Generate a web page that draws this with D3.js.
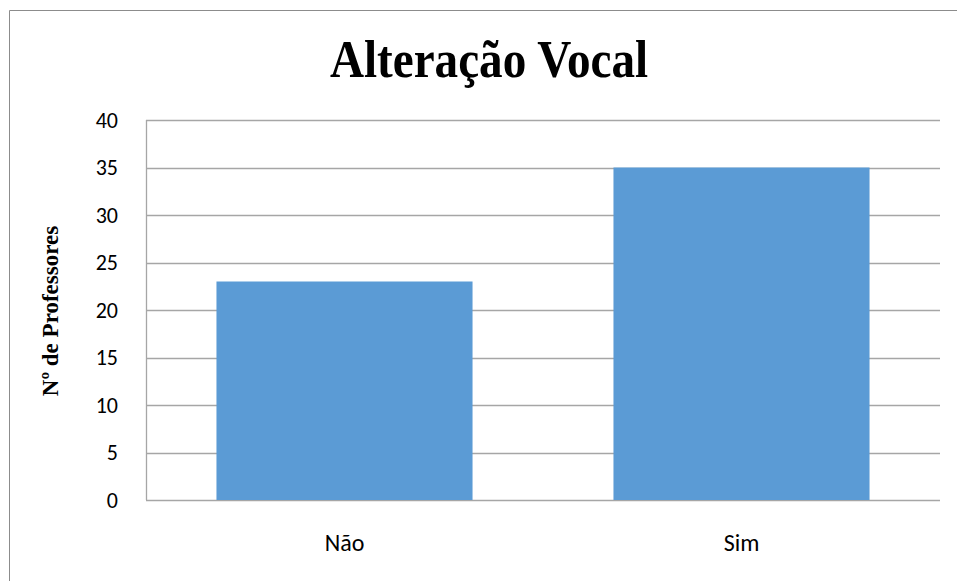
<!DOCTYPE html>
<html>
<head>
<meta charset="utf-8">
<script src="https://cdn.jsdelivr.net/npm/d3@7"></script>
<style>
  body { margin: 0; background: #fff; }
</style>
</head>
<body>
<script>
var categories = ["Não", "Sim"];
var values = [23, 35];
var yTicks = [0, 5, 10, 15, 20, 25, 30, 35, 40];
var title = "Alteração Vocal";
var yLabel = "Nº de Professores";

var width = 957, height = 581;
var margin = {left: 146, right: 17, top: 120, bottom: 81};

var svg = d3.select("body").append("svg")
    .attr("width", width)
    .attr("height", height);

// outer chart border (only left and top visible in the picture)
svg.append("path")
    .attr("d", "M9.5," + height + "V10.5H" + width)
    .attr("fill", "none")
    .attr("stroke", "#8c8c8c")
    .attr("stroke-width", 1);

var x = d3.scaleBand()
    .domain(categories)
    .range([margin.left, width - margin.right])
    .paddingInner(0.355)
    .paddingOuter(0.1775);

var y = d3.scaleLinear()
    .domain([0, 40])
    .range([height - margin.bottom, margin.top]);

// gridlines
svg.append("g").selectAll("line")
    .data(yTicks)
    .enter()
    .append("line")
    .attr("x1", margin.left)
    .attr("x2", width - margin.right)
    .attr("y1", function(d) { return Math.round(y(d)) + 0.5; })
    .attr("y2", function(d) { return Math.round(y(d)) + 0.5; })
    .attr("stroke", "#a6a6a6")
    .attr("stroke-width", 1.3);

// left axis line
svg.append("line")
    .attr("x1", margin.left + 0.5)
    .attr("x2", margin.left + 0.5)
    .attr("y1", y(40))
    .attr("y2", y(0))
    .attr("stroke", "#a6a6a6")
    .attr("stroke-width", 1.3);

// bars
svg.append("g").selectAll("rect")
    .data(values)
    .enter()
    .append("rect")
    .attr("x", function(d, i) { return x(categories[i]); })
    .attr("y", function(d) { return y(d); })
    .attr("width", x.bandwidth())
    .attr("height", function(d) { return y(0) - y(d); })
    .attr("fill", "#5b9bd5");

// y tick labels
svg.append("g").selectAll("text")
    .data(yTicks)
    .enter()
    .append("text")
    .attr("x", 118)
    .attr("y", function(d) { return y(d); })
    .attr("dy", "0.35em")
    .attr("text-anchor", "end")
    .attr("font-family", "Carlito, 'Liberation Sans', sans-serif")
    .attr("font-size", "22px")
    .attr("fill", "#000")
    .text(function(d) { return d; });

// category labels
svg.append("g").selectAll("text")
    .data(categories)
    .enter()
    .append("text")
    .attr("x", function(d) { return x(d) + x.bandwidth() / 2; })
    .attr("y", 551)
    .attr("text-anchor", "middle")
    .attr("font-family", "Carlito, 'Liberation Sans', sans-serif")
    .attr("font-size", "24px")
    .attr("fill", "#000")
    .text(function(d) { return d; });

// title (slightly condensed like the reference)
svg.append("text")
    .attr("transform", "translate(489,77) scale(0.89,1)")
    .attr("text-anchor", "middle")
    .attr("font-family", "'Liberation Serif', 'Times New Roman', serif")
    .attr("font-weight", "bold")
    .attr("font-size", "53px")
    .text(title);

// y axis title
svg.append("text")
    .attr("transform", "translate(58,311) rotate(-90)")
    .attr("text-anchor", "middle")
    .attr("font-family", "'Liberation Serif', 'Times New Roman', serif")
    .attr("font-weight", "bold")
    .attr("font-size", "23px")
    .text(yLabel);
</script>
</body>
</html>
